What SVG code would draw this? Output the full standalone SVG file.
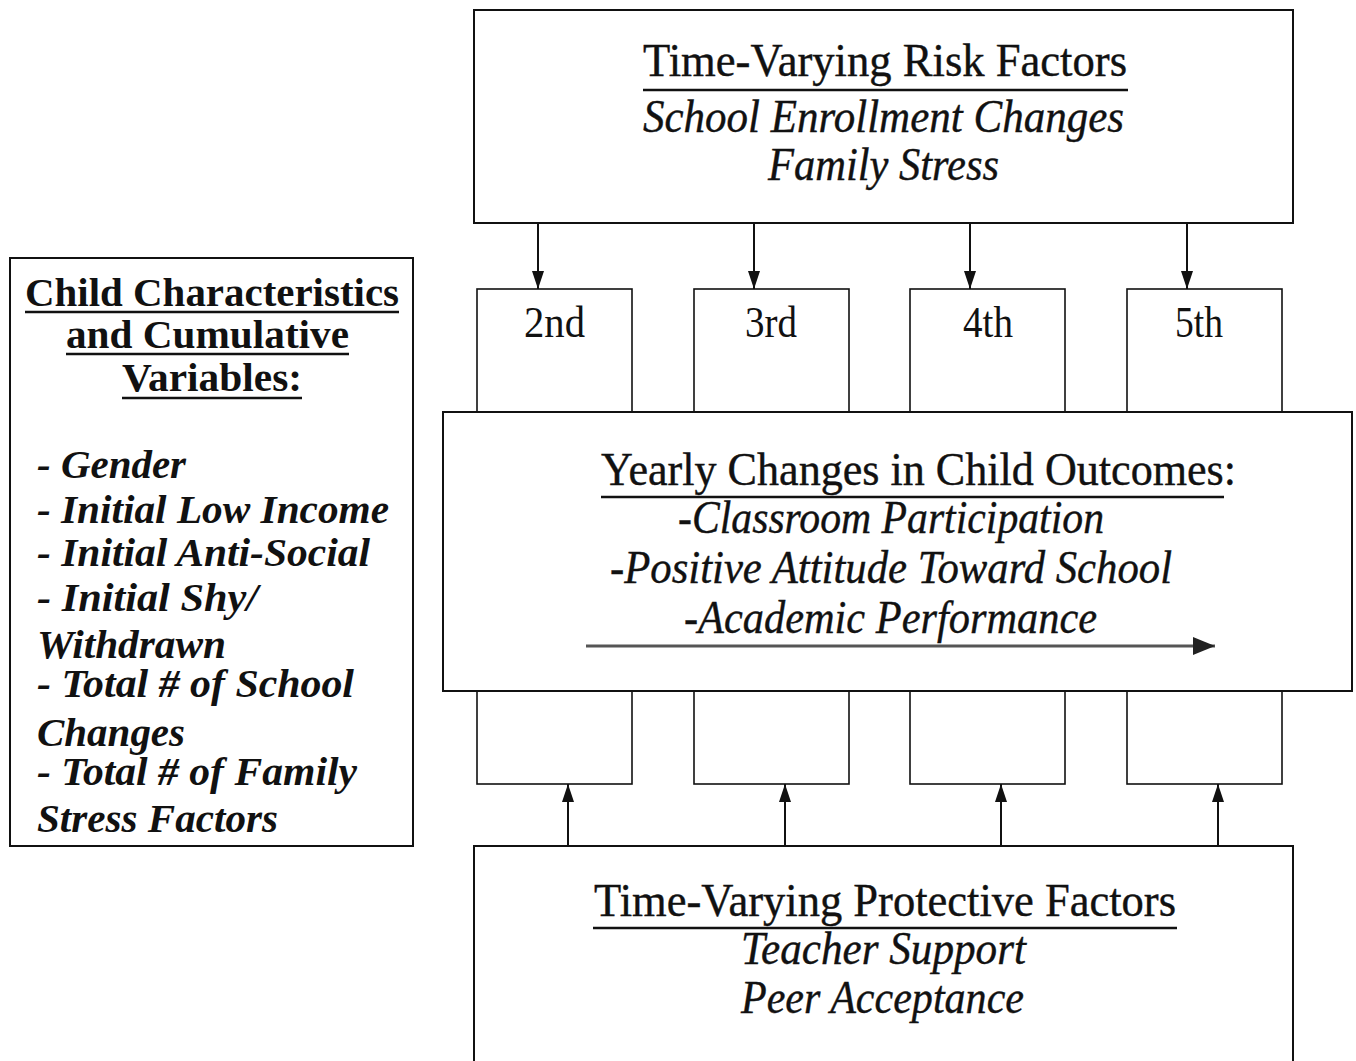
<svg xmlns="http://www.w3.org/2000/svg" width="1356" height="1061" viewBox="0 0 1356 1061">
<style>
.box{fill:#fff;stroke:#111;stroke-width:2}
.gbox{fill:#fff;stroke:#111;stroke-width:1.6}
.t{font-family:"Liberation Serif","Times New Roman",serif;fill:#111}
.title{font-size:46px;stroke:#111;stroke-width:0.4}
.it{font-size:46px;font-style:italic;stroke:#111;stroke-width:0.4}
.grade{font-size:44px}
.lh{font-size:39px;font-weight:bold}
.li{font-size:39px;font-weight:bold;font-style:italic}
.ul{stroke:#111;stroke-width:2.5}
.conn{stroke:#111;stroke-width:2;fill:none}
</style>
<defs>
<marker id="ah" markerWidth="18" markerHeight="12" refX="18" refY="6" orient="auto" markerUnits="userSpaceOnUse" viewBox="0 0 18 12">
<path d="M0,0 L18,6 L0,12 Z" fill="#111"/>
</marker>
<marker id="ah2" markerWidth="22" markerHeight="18" refX="22" refY="9" orient="auto" markerUnits="userSpaceOnUse" viewBox="0 0 22 18">
<path d="M0,0 L22,9 L0,18 Z" fill="#222"/>
</marker>
</defs>

<g id="grade2"><rect class="gbox" x="477" y="289" width="155" height="495"/><text class="t grade" x="524" y="337" textLength="61" lengthAdjust="spacingAndGlyphs">2nd</text></g>
<g id="grade3"><rect class="gbox" x="694" y="289" width="155" height="495"/><text class="t grade" x="745" y="337" textLength="52" lengthAdjust="spacingAndGlyphs">3rd</text></g>
<g id="grade4"><rect class="gbox" x="910" y="289" width="155" height="495"/><text class="t grade" x="963" y="337" textLength="50" lengthAdjust="spacingAndGlyphs">4th</text></g>
<g id="grade5"><rect class="gbox" x="1127" y="289" width="155" height="495"/><text class="t grade" x="1175" y="337" textLength="48" lengthAdjust="spacingAndGlyphs">5th</text></g>

<g id="risk">
<rect class="box" x="474" y="10" width="819" height="213"/>
<text class="t title" x="643" y="76" textLength="484" lengthAdjust="spacingAndGlyphs">Time-Varying Risk Factors</text>
<line class="ul" x1="643" y1="90" x2="1128" y2="90"/>
<text class="t it" x="643" y="132" textLength="481" lengthAdjust="spacingAndGlyphs">School Enrollment Changes</text>
<text class="t it" x="768" y="180" textLength="231" lengthAdjust="spacingAndGlyphs">Family Stress</text>
</g>

<g id="outcomes">
<rect class="box" x="443" y="412" width="909" height="279"/>
<text class="t title" x="601" y="485" textLength="635" lengthAdjust="spacingAndGlyphs">Yearly Changes in Child Outcomes:</text>
<line class="ul" x1="601" y1="497" x2="1224" y2="497"/>
<text class="t it" x="678" y="533" textLength="426" lengthAdjust="spacingAndGlyphs">-Classroom Participation</text>
<text class="t it" x="610" y="583" textLength="562" lengthAdjust="spacingAndGlyphs">-Positive Attitude Toward School</text>
<text class="t it" x="684" y="633" textLength="413" lengthAdjust="spacingAndGlyphs">-Academic Performance</text>
<line x1="586" y1="646" x2="1215" y2="646" stroke="#555" stroke-width="3" marker-end="url(#ah2)"/>
</g>

<g id="protective">
<rect class="box" x="474" y="846" width="819" height="220"/>
<text class="t title" x="594" y="916" textLength="582" lengthAdjust="spacingAndGlyphs">Time-Varying Protective Factors</text>
<line class="ul" x1="593" y1="928" x2="1177" y2="928"/>
<text class="t it" x="741" y="964" textLength="285" lengthAdjust="spacingAndGlyphs">Teacher Support</text>
<text class="t it" x="741" y="1013" textLength="283" lengthAdjust="spacingAndGlyphs">Peer Acceptance</text>
</g>

<g id="child">
<rect class="box" x="10" y="258" width="403" height="588"/>
<text class="t lh" x="25" y="306" textLength="374" lengthAdjust="spacingAndGlyphs">Child Characteristics</text>
<line class="ul" x1="25" y1="312" x2="399" y2="312"/>
<text class="t lh" x="66" y="348" textLength="283" lengthAdjust="spacingAndGlyphs">and Cumulative</text>
<line class="ul" x1="66" y1="354" x2="349" y2="354"/>
<text class="t lh" x="122" y="391" textLength="180" lengthAdjust="spacingAndGlyphs">Variables:</text>
<line class="ul" x1="122" y1="398" x2="302" y2="398"/>
<text class="t li" x="37" y="478" textLength="149" lengthAdjust="spacingAndGlyphs">- Gender</text>
<text class="t li" x="37" y="523" textLength="352" lengthAdjust="spacingAndGlyphs">- Initial Low Income</text>
<text class="t li" x="37" y="566" textLength="333" lengthAdjust="spacingAndGlyphs">- Initial Anti-Social</text>
<text class="t li" x="37" y="611" textLength="221" lengthAdjust="spacingAndGlyphs">- Initial Shy/</text>
<text class="t li" x="37" y="658" textLength="189" lengthAdjust="spacingAndGlyphs">Withdrawn</text>
<text class="t li" x="37" y="697" textLength="317" lengthAdjust="spacingAndGlyphs">- Total # of School</text>
<text class="t li" x="37" y="746" textLength="148" lengthAdjust="spacingAndGlyphs">Changes</text>
<text class="t li" x="37" y="785" textLength="320" lengthAdjust="spacingAndGlyphs">- Total # of Family</text>
<text class="t li" x="37" y="832" textLength="241" lengthAdjust="spacingAndGlyphs">Stress Factors</text>
</g>

<g id="connectors">
<line class="conn" x1="538" y1="223" x2="538" y2="289" marker-end="url(#ah)"/>
<line class="conn" x1="754" y1="223" x2="754" y2="289" marker-end="url(#ah)"/>
<line class="conn" x1="970" y1="223" x2="970" y2="289" marker-end="url(#ah)"/>
<line class="conn" x1="1187" y1="223" x2="1187" y2="289" marker-end="url(#ah)"/>
<line class="conn" x1="568" y1="846" x2="568" y2="784" marker-end="url(#ah)"/>
<line class="conn" x1="785" y1="846" x2="785" y2="784" marker-end="url(#ah)"/>
<line class="conn" x1="1001" y1="846" x2="1001" y2="784" marker-end="url(#ah)"/>
<line class="conn" x1="1218" y1="846" x2="1218" y2="784" marker-end="url(#ah)"/>
</g>
</svg>
